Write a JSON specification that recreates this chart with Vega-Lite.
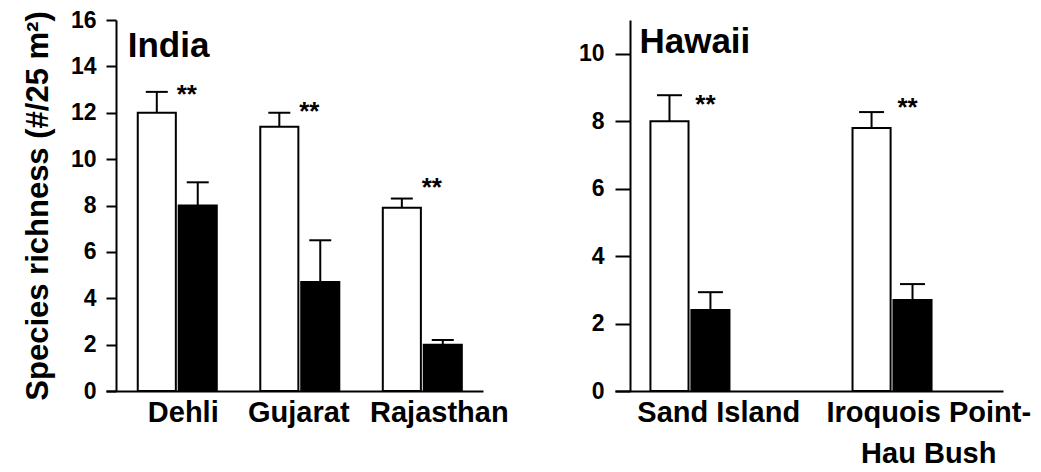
{
  "$schema": "https://vega.github.io/schema/vega-lite/v6.json",
  "padding": {"left": 22, "top": 9, "right": 0, "bottom": 0},
  "background": "white",
  "config": {
    "view": {"stroke": null},
    "font": "Liberation Sans",
    "axis": {"grid": false, "domainColor": "black", "tickColor": "black", "labelColor": "black", "titleColor": "black", "labelFont": "Liberation Sans", "titleFont": "Liberation Sans"}
  },
  "spacing": 69,
  "datasets": {
    "india": [
      {"site": "Dehli", "group": "Outside", "mean": 12.0, "upper": 12.9, "star": 12.41},
      {"site": "Dehli", "group": "Under", "mean": 8.0, "upper": 9.0, "star": null},
      {"site": "Gujarat", "group": "Outside", "mean": 11.4, "upper": 12.0, "star": 11.68},
      {"site": "Gujarat", "group": "Under", "mean": 4.7, "upper": 6.5, "star": null},
      {"site": "Rajasthan", "group": "Outside", "mean": 7.9, "upper": 8.3, "star": 8.4},
      {"site": "Rajasthan", "group": "Under", "mean": 2.0, "upper": 2.2, "star": null}
    ],
    "hawaii": [
      {"site": "Sand Island", "group": "Outside", "mean": 8.0, "upper": 8.77, "star": 8.25},
      {"site": "Sand Island", "group": "Under", "mean": 2.4, "upper": 2.93, "star": null},
      {"site": "Iroquois Point-Hau Bush", "group": "Outside", "mean": 7.8, "upper": 8.27, "star": 8.16},
      {"site": "Iroquois Point-Hau Bush", "group": "Under", "mean": 2.7, "upper": 3.17, "star": null}
    ]
  },
  "hconcat": [
    {
      "width": 377,
      "height": 371,
      "layer": [
        {
          "data": {"name": "india"},
          "mark": {"type": "bar", "stroke": "black", "strokeWidth": 2},
          "encoding": {
            "x": {
              "field": "site", "type": "nominal", "sort": ["Dehli", "Gujarat", "Rajasthan"],
              "scale": {"paddingInner": 0.355, "paddingOuter": 0.216, "align": 0.6},
              "axis": {"title": null, "ticks": false, "labelAngle": 0, "labelFontSize": 29, "labelFontWeight": "bold", "labelPadding": 7, "domainWidth": 2, "labelBaseline": "top", "labelLimit": 300,
                "labelOffset": {"condition": [{"test": "datum.value === 'Rajasthan'", "value": 17}, {"test": "datum.value === 'Dehli'", "value": 6}], "value": -1}}
            },
            "xOffset": {"field": "group", "type": "nominal", "sort": ["Outside", "Under"], "scale": {"paddingInner": 0.07}},
            "y": {
              "field": "mean", "type": "quantitative",
              "scale": {"domain": [0, 16], "nice": false},
              "axis": {"values": [0, 2, 4, 6, 8, 10, 12, 14, 16], "offset": -10, "tickSize": 10, "tickWidth": 2, "domainWidth": 2, "labelFontSize": 23, "labelFontWeight": "bold", "labelPadding": 10, "title": "Species richness (#/25 m²)", "titleFontSize": 31, "titleFontWeight": "bold", "titlePadding": 16}
            },
            "fill": {"field": "group", "type": "nominal", "scale": {"domain": ["Outside", "Under"], "range": ["white", "black"]}, "legend": null}
          }
        },
        {
          "data": {"name": "india"},
          "mark": {"type": "rule", "strokeWidth": 2, "color": "black"},
          "encoding": {
            "x": {"field": "site", "type": "nominal", "sort": ["Dehli", "Gujarat", "Rajasthan"]},
            "xOffset": {"field": "group", "type": "nominal", "sort": ["Outside", "Under"]},
            "y": {"field": "mean", "type": "quantitative"}, "y2": {"field": "upper"}}
        },
        {
          "data": {"name": "india"},
          "mark": {"type": "tick", "size": 22, "thickness": 2, "color": "black", "opacity": 1},
          "encoding": {
            "x": {"field": "site", "type": "nominal", "sort": ["Dehli", "Gujarat", "Rajasthan"]},
            "xOffset": {"field": "group", "type": "nominal", "sort": ["Outside", "Under"]},
            "y": {"field": "upper", "type": "quantitative"}}
        },
        {
          "data": {"name": "india"},
          "transform": [{"filter": "datum.star != null"}],
          "mark": {"type": "text", "text": "**", "fontSize": 26, "fontWeight": "bold", "dx": 30, "baseline": "alphabetic", "align": "center", "color": "black"},
          "encoding": {
            "x": {"field": "site", "type": "nominal", "sort": ["Dehli", "Gujarat", "Rajasthan"]},
            "xOffset": {"field": "group", "type": "nominal", "sort": ["Outside", "Under"]},
            "y": {"field": "star", "type": "quantitative"}}
        },
        {
          "data": {"values": [{"label": "India", "site": "Dehli", "y": 14.4}]},
          "mark": {"type": "text", "fontSize": 35, "fontWeight": "bold", "align": "left", "baseline": "alphabetic", "dx": -10, "color": "black"},
          "encoding": {
            "x": {"field": "site", "type": "nominal", "bandPosition": 0, "sort": ["Dehli", "Gujarat", "Rajasthan"]},
            "y": {"field": "y", "type": "quantitative"},
            "text": {"field": "label"}
          }
        }
      ]
    },
    {
      "width": 388,
      "height": 371,
      "layer": [
        {
          "data": {"name": "hawaii"},
          "mark": {"type": "bar", "stroke": "black", "strokeWidth": 2},
          "encoding": {
            "x": {
              "field": "site", "type": "nominal", "sort": ["Sand Island", "Iroquois Point-Hau Bush"],
              "scale": {"paddingInner": 0.354, "paddingOuter": 0.137, "align": 0.64},
              "axis": {"title": null, "ticks": false, "labelAngle": 0, "labelFontSize": 29, "labelFontWeight": "bold", "labelPadding": 7, "domainWidth": 2, "labelBaseline": "top", "labelLineHeight": 41, "labelLimit": 300,
                "labelOffset": {"condition": {"test": "datum.value === 'Sand Island'", "value": 3}, "value": 11},
                "labelExpr": "datum.value == 'Iroquois Point-Hau Bush' ? ['Iroquois Point-', 'Hau Bush'] : datum.label"}
            },
            "xOffset": {"field": "group", "type": "nominal", "sort": ["Outside", "Under"], "scale": {"paddingInner": 0.07}},
            "y": {
              "field": "mean", "type": "quantitative",
              "scale": {"domain": [0, 11], "nice": false},
              "axis": {"values": [0, 2, 4, 6, 8, 10], "offset": -15, "tickSize": 15, "tickWidth": 2, "domainWidth": 2, "labelFontSize": 23, "labelFontWeight": "bold", "labelPadding": 11, "title": null}
            },
            "fill": {"field": "group", "type": "nominal", "scale": {"domain": ["Outside", "Under"], "range": ["white", "black"]}, "legend": null}
          }
        },
        {
          "data": {"name": "hawaii"},
          "mark": {"type": "rule", "strokeWidth": 2, "color": "black"},
          "encoding": {
            "x": {"field": "site", "type": "nominal", "sort": ["Sand Island", "Iroquois Point-Hau Bush"]},
            "xOffset": {"field": "group", "type": "nominal", "sort": ["Outside", "Under"]},
            "y": {"field": "mean", "type": "quantitative"}, "y2": {"field": "upper"}}
        },
        {
          "data": {"name": "hawaii"},
          "mark": {"type": "tick", "size": 25, "thickness": 2, "color": "black", "opacity": 1},
          "encoding": {
            "x": {"field": "site", "type": "nominal", "sort": ["Sand Island", "Iroquois Point-Hau Bush"]},
            "xOffset": {"field": "group", "type": "nominal", "sort": ["Outside", "Under"]},
            "y": {"field": "upper", "type": "quantitative"}}
        },
        {
          "data": {"name": "hawaii"},
          "transform": [{"filter": "datum.star != null"}],
          "mark": {"type": "text", "text": "**", "fontSize": 26, "fontWeight": "bold", "dx": 36, "baseline": "alphabetic", "align": "center", "color": "black"},
          "encoding": {
            "x": {"field": "site", "type": "nominal", "sort": ["Sand Island", "Iroquois Point-Hau Bush"]},
            "xOffset": {"field": "group", "type": "nominal", "sort": ["Outside", "Under"]},
            "y": {"field": "star", "type": "quantitative"}}
        },
        {
          "data": {"values": [{"label": "Hawaii", "site": "Sand Island", "y": 10.02}]},
          "mark": {"type": "text", "fontSize": 35, "fontWeight": "bold", "align": "left", "baseline": "alphabetic", "dx": -11, "color": "black"},
          "encoding": {
            "x": {"field": "site", "type": "nominal", "bandPosition": 0, "sort": ["Sand Island", "Iroquois Point-Hau Bush"]},
            "y": {"field": "y", "type": "quantitative"},
            "text": {"field": "label"}
          }
        }
      ]
    }
  ]
}
